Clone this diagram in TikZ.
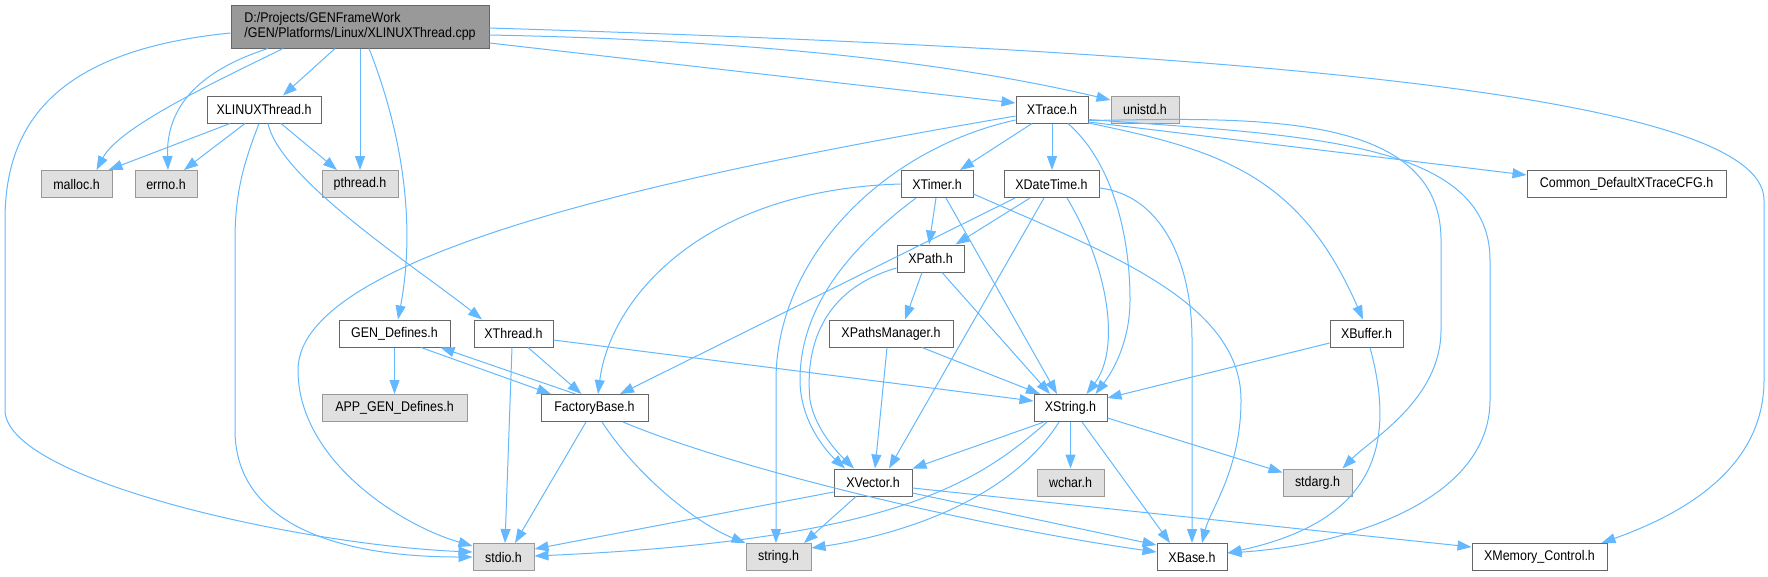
\documentclass[tikz,border=0pt]{standalone}
\usepackage{fontspec}
\setmainfont[FakeStretch=0.89]{Liberation Sans}
\usetikzlibrary{arrows.meta}
\definecolor{edgec}{HTML}{63B8FF}
\definecolor{ngray}{HTML}{E0E0E0}
\definecolor{nborder}{HTML}{666666}
\definecolor{gborder}{HTML}{999999}
\definecolor{mainfill}{HTML}{999999}
\begin{document}
\begin{tikzpicture}[x=1pt,y=-1pt,
  box/.style={draw=nborder, fill=white, line width=1pt, minimum height=27pt, inner sep=0pt, font=\fontsize{14}{16}\selectfont, text=black},
  sys/.style={box, draw=gborder, fill=ngray},
  mainbox/.style={box, fill=mainfill, minimum height=43pt, align=left, font=\fontsize{14}{15.5}\selectfont},
  dep/.style={draw=edgec, line width=1pt, -{Triangle[length=14pt,width=10pt]}}]
\useasboundingbox (0,0) rectangle (1768,576);
% nodes
\node[mainbox, minimum width=258pt] (main) at (360,26.5) {D:/Projects/GENFrameWork\\/GEN/Platforms/Linux/XLINUXThread.cpp};
\node[box, minimum width=114pt] (xlinux) at (264,109.5) {XLINUXThread.h};
\node[sys, minimum width=71pt] (malloc) at (76.5,184) {malloc.h};
\node[sys, minimum width=62pt] (errno) at (166,184) {errno.h};
\node[sys, minimum width=76pt] (pthread) at (360,184) {pthread.h};
\node[box, minimum width=72pt] (xtrace) at (1052,109.5) {XTrace.h};
\node[sys, minimum width=68pt] (unistd) at (1145,109.5) {unistd.h};
\node[box, minimum width=72pt] (xtimer) at (937,184) {XTimer.h};
\node[box, minimum width=95pt] (xdt) at (1051.5,184) {XDateTime.h};
\node[box, minimum width=199pt] (common) at (1626.5,184) {Common\_DefaultXTraceCFG.h};
\node[box, minimum width=111pt] (gendef) at (394.5,333.5) {GEN\_Defines.h};
\node[box, minimum width=79pt] (xthread) at (513.5,333.5) {XThread.h};
\node[sys, minimum width=145pt] (appgen) at (394.5,408) {APP\_GEN\_Defines.h};
\node[box, minimum width=107pt] (factory) at (594.5,408) {FactoryBase.h};
\node[box, minimum width=67pt] (xpath) at (930.5,258.5) {XPath.h};
\node[box, minimum width=124pt] (xpm) at (891,333.5) {XPathsManager.h};
\node[box, minimum width=73pt] (xstring) at (1070.5,408) {XString.h};
\node[box, minimum width=73pt] (xbuffer) at (1366.5,333.5) {XBuffer.h};
\node[box, minimum width=78pt] (xvector) at (873,482.5) {XVector.h};
\node[sys, minimum width=67pt] (wchar) at (1070.5,482.5) {wchar.h};
\node[sys, minimum width=65pt] (strh) at (778.5,557) {string.h};
\node[sys, minimum width=69pt] (stdarg) at (1317.5,482.5) {stdarg.h};
\node[box, minimum width=70pt] (xbase) at (1192,557) {XBase.h};
\node[box, minimum width=135pt] (xmem) at (1539.5,557) {XMemory\_Control.h};
\node[sys, minimum width=61pt] (stdio) at (503.5,557) {stdio.h};
% edges from main
\draw[dep] ([shift={(-77,0)}]main.south) .. controls (230,75) and (120,125) .. ([shift={(20,0)}]malloc.north);
\draw[dep] ([shift={(-92,0)}]main.south) .. controls (195,72) and (166,110) .. ([shift={(2,0)}]errno.north);
\draw[dep] ([shift={(-25,0)}]main.south) -- ([shift={(19,0)}]xlinux.north);
\draw[dep] (main.south) -- (pthread.north);
\draw[dep] ([shift={(9,0)}]main.south) .. controls (405,140) and (415,230) .. ([shift={(3.5,0)}]gendef.north);
\draw[dep] ([shift={(0,6.5)}]main.west) .. controls (60,50) and (5,120) .. (5,220) -- (5,410) .. controls (5,480) and (300,545) .. ([shift={(0,-5)}]stdio.west);
\draw[dep] ([shift={(0,16.5)}]main.east) -- ([shift={(0,-6.5)}]xtrace.west);
\draw[dep] ([shift={(0,8.5)}]main.east) .. controls (750,40) and (950,62) .. ([shift={(0,-9.5)}]unistd.west);
\draw[dep] ([shift={(0,1.5)}]main.east) .. controls (1200,50) and (1764,90) .. (1764,200) -- (1764,380) .. controls (1764,470) and (1680,515) .. ([shift={(62,0)}]xmem.north);
% XLINUXThread
\draw[dep] ([shift={(-34,0)}]xlinux.south) -- ([shift={(32,0)}]malloc.north);
\draw[dep] ([shift={(-19,0)}]xlinux.south) -- ([shift={(18,0)}]errno.north);
\draw[dep] ([shift={(17,0)}]xlinux.south) -- ([shift={(-23,0)}]pthread.north);
\draw[dep] ([shift={(-5,0)}]xlinux.south) .. controls (245,160) and (235,190) .. (235,240) -- (235,430) .. controls (235,520) and (330,557) .. (stdio.west);
\draw[dep] ([shift={(4,0)}]xlinux.south) .. controls (280,180) and (420,270) .. ([shift={(-31.5,0)}]xthread.north);
% XTrace
\draw[dep] ([shift={(-20,0)}]xtrace.south) -- ([shift={(23,0)}]xtimer.north);
\draw[dep] (xtrace.south) -- ([shift={(0.5,0)}]xdt.north);
\draw[dep] ([shift={(0,6.5)}]xtrace.west) .. controls (700,170) and (298,250) .. (298,370) .. controls (298,460) and (400,525) .. ([shift={(0,-11)}]stdio.west);
\draw[dep] ([shift={(0,10.5)}]xtrace.west) .. controls (880,150) and (776,260) .. (776,380) -- ([shift={(-2.5,0)}]strh.north);
\draw[dep] ([shift={(16,0)}]xtrace.south) .. controls (1110,160) and (1130,230) .. (1130,300) .. controls (1130,345) and (1110,375) .. ([shift={(25,0)}]xstring.north);
\draw[dep] ([shift={(0,10)}]xtrace.east) .. controls (1300,135) and (1490,140) .. (1490,260) -- (1490,400) .. controls (1490,500) and (1350,545) .. ([shift={(0,-4)}]xbase.east);
\draw[dep] ([shift={(0,11)}]xtrace.east) .. controls (1250,118) and (1441,110) .. (1441,240) -- (1441,330) .. controls (1441,400) and (1370,440) .. ([shift={(25,0)}]stdarg.north);
\draw[dep] ([shift={(0,12.5)}]xtrace.east) -- ([shift={(0,-9)}]common.west);
\draw[dep] ([shift={(0,13.5)}]xtrace.east) .. controls (1220,150) and (1300,175) .. ([shift={(-3.5,0)}]xbuffer.north);
% XTimer
\draw[dep] ([shift={(-1,0)}]xtimer.south) -- ([shift={(-1.5,0)}]xpath.north);
\draw[dep] ([shift={(9,0)}]xtimer.south) -- ([shift={(-13.5,0)}]xstring.north);
\draw[dep] ([shift={(-21,0)}]xtimer.south) .. controls (860,240) and (800,300) .. (800,380) .. controls (800,420) and (825,450) .. ([shift={(-28,0)}]xvector.north);
\draw[dep] (xtimer.west) .. controls (700,190) and (610,300) .. ([shift={(3.5,0)}]factory.north);
\draw[dep] ([shift={(0,10)}]xtimer.east) .. controls (1100,250) and (1241,300) .. (1241,400) .. controls (1241,470) and (1210,510) .. ([shift={(10,0)}]xbase.north);
% XDateTime
\draw[dep] ([shift={(-21.5,0)}]xdt.south) -- ([shift={(25,0)}]xpath.north);
\draw[dep] ([shift={(-36.5,0)}]xdt.south) -- ([shift={(25.5,0)}]factory.north);
\draw[dep] ([shift={(-7.5,0)}]xdt.south) -- ([shift={(16,0)}]xvector.north);
\draw[dep] ([shift={(15.5,0)}]xdt.south) .. controls (1110,270) and (1120,350) .. ([shift={(16,0)}]xstring.north);
\draw[dep] ([shift={(0,4)}]xdt.east) .. controls (1160,195) and (1192,260) .. (1192,340) -- (xbase.north);
% XPath
\draw[dep] ([shift={(-8.5,0)}]xpath.south) -- ([shift={(14,0)}]xpm.north);
\draw[dep] ([shift={(11.5,0)}]xpath.south) -- ([shift={(-20.5,0)}]xstring.north);
\draw[dep] ([shift={(0,9.5)}]xpath.west) .. controls (820,290) and (805,350) .. (810,400) .. controls (815,430) and (840,455) .. ([shift={(-19,0)}]xvector.north);
% XPathsManager
\draw[dep] ([shift={(-4,0)}]xpm.south) -- ([shift={(2,0)}]xvector.north);
\draw[dep] ([shift={(31,0)}]xpm.south) -- ([shift={(-30.5,0)}]xstring.north);
% XThread
\draw[dep] ([shift={(14.5,0)}]xthread.south) -- ([shift={(-13,0)}]factory.north);
\draw[dep] ([shift={(-1.5,0)}]xthread.south) -- ([shift={(1.5,0)}]stdio.north);
\draw[dep] ([shift={(0,6.5)}]xthread.east) -- ([shift={(0,-7)}]xstring.west);
% GEN_Defines / FactoryBase
\draw[dep] (gendef.south) -- (appgen.north);
\draw[dep] ([shift={(26.5,0)}]gendef.south) -- ([shift={(-43.5,0)}]factory.north);
\draw[dep] ([shift={(-19,0)}]factory.north) -- ([shift={(46,0)}]gendef.south);
\draw[dep] ([shift={(-8.5,0)}]factory.south) -- ([shift={(11.5,0)}]stdio.north);
\draw[dep] ([shift={(7.5,0)}]factory.south) .. controls (640,480) and (700,525) .. (strh.north west);
\draw[dep] ([shift={(28.5,0)}]factory.south) .. controls (750,475) and (1000,530) .. ([shift={(0,-5)}]xbase.west);
% XString
\draw[dep] ([shift={(-26.5,0)}]xstring.south) -- (xvector.north east);
\draw[dep] ([shift={(-23.5,0)}]xstring.south) .. controls (980,480) and (900,540) .. ([shift={(0,-1)}]stdio.east);
\draw[dep] ([shift={(-11.5,0)}]xstring.south) .. controls (1010,500) and (900,535) .. ([shift={(0,-9)}]strh.east);
\draw[dep] (xstring.south) -- (wchar.north);
\draw[dep] ([shift={(11.5,0)}]xstring.south) -- ([shift={(-22,0)}]xbase.north);
\draw[dep] ([shift={(0,10)}]xstring.east) -- ([shift={(0,-10)}]stdarg.west);
% XVector
\draw[dep] ([shift={(0,9.5)}]xvector.west) -- ([shift={(0,-8)}]stdio.east);
\draw[dep] ([shift={(-17,0)}]xvector.south) -- ([shift={(25.5,0)}]strh.north);
\draw[dep] ([shift={(0,10.5)}]xvector.east) -- ([shift={(0,-12)}]xbase.west);
\draw[dep] ([shift={(0,5.5)}]xvector.east) -- ([shift={(0,-10)}]xmem.west);
% XBuffer
\draw[dep] ([shift={(0,9.5)}]xbuffer.west) -- ([shift={(0,-10)}]xstring.east);
\draw[dep] ([shift={(3.5,0)}]xbuffer.south) .. controls (1395,440) and (1380,520) .. ([shift={(0,-4)}]xbase.east);
\end{tikzpicture}
\end{document}
